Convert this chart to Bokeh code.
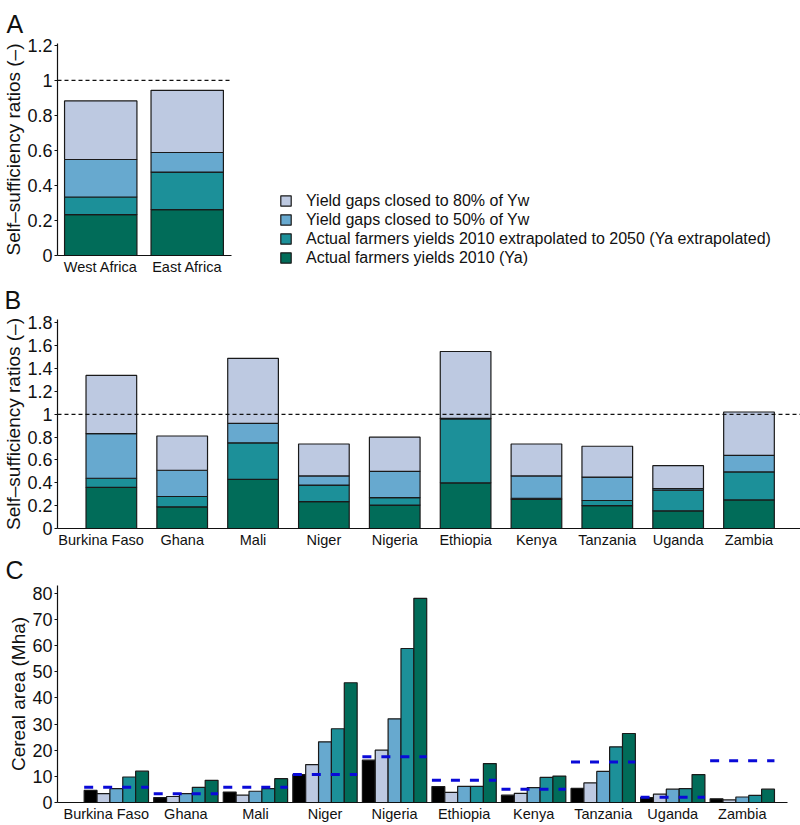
from bokeh.plotting import figure
from bokeh.models import Range1d, FixedTicker, Span, Legend, LegendItem, Title
from bokeh.layouts import column, row
from bokeh.embed import file_html
from bokeh.resources import INLINE

FONT = "Liberation Sans"
TXT = "#111111"
EDGE = "#1a1a1a"

# ---------------- data ----------------
# Panel A: regional self-sufficiency ratios (level reached under each scenario)
regions = ["West Africa", "East Africa"]
a_ya = [0.233, 0.262]
a_ya_ext = [0.334, 0.476]
a_yg50 = [0.548, 0.588]
a_yg80 = [0.882, 0.943]

# Panel B: country self-sufficiency ratios
countries = ["Burkina Faso", "Ghana", "Mali", "Niger", "Nigeria",
             "Ethiopia", "Kenya", "Tanzania", "Uganda", "Zambia"]
b_ya = [0.36, 0.19, 0.43, 0.235, 0.205, 0.40, 0.255, 0.20, 0.155, 0.25]
b_ya_ext = [0.44, 0.28, 0.75, 0.38, 0.27, 0.96, 0.265, 0.245, 0.335, 0.495]
b_yg50 = [0.83, 0.51, 0.92, 0.46, 0.50, 0.965, 0.46, 0.45, 0.35, 0.64]
b_yg80 = [1.34, 0.81, 1.49, 0.74, 0.80, 1.55, 0.74, 0.72, 0.55, 1.02]

# Panel C: cereal area (Mha)
c_area_2010 = [4.6, 1.9, 4.0, 10.7, 16.2, 6.1, 2.8, 5.4, 1.9, 1.4]
c_area_yg80 = [3.4, 2.3, 2.8, 14.5, 20.0, 3.9, 3.5, 7.5, 3.2, 1.0]
c_area_yg50 = [5.3, 3.4, 4.3, 23.2, 32.0, 6.2, 5.7, 11.9, 5.1, 2.1]
c_area_ya_ext = [9.75, 5.8, 5.3, 28.2, 58.9, 6.2, 9.6, 21.3, 5.3, 2.7]
c_area_ya = [12.0, 8.5, 9.1, 45.8, 78.1, 14.9, 10.1, 26.4, 10.7, 5.1]
c_potential = [5.8, 3.3, 5.8, 10.7, 17.5, 8.5, 5.1, 15.5, 2.0, 16.0]

ticks_a = [0, 0.2, 0.4, 0.6, 0.8, 1, 1.2]
ticks_b = [0, 0.2, 0.4, 0.6, 0.8, 1, 1.2, 1.4, 1.6, 1.8]
ticks_c = [0, 10, 20, 30, 40, 50, 60, 70, 80]
threshold = 1.0

scenario_names = ["Actual farmers yields 2010 (Ya)",
                  "Actual farmers yields 2010 extrapolated to 2050 (Ya extrapolated)",
                  "Yield gaps closed to 50% of Yw",
                  "Yield gaps closed to 80% of Yw"]
scenario_colors = ["#016c59", "#1c9099", "#67a9cf", "#bdc9e1"]
area_colors = ["#000000", "#bdc9e1", "#67a9cf", "#1c9099", "#016c59"]
potential_color = "#0a0ad8"
ssr_label = "Self\u2013sufficiency ratios (\u2013)"
area_label = "Cereal area (Mha)"


# ---------------- helpers ----------------
def make_fig(width, height, xr, yr, top, bottom, right, letter, letter_offset, letter_standoff):
    p = figure(width=width, height=height, x_range=xr, y_range=yr,
               output_backend="svg", toolbar_location=None,
               min_border_left=57, min_border_right=right,
               min_border_top=top, min_border_bottom=bottom)
    p.frame_align = False
    p.title = Title(text=letter, align="left", offset=letter_offset,
                    standoff=letter_standoff, text_font=FONT,
                    text_font_size="25px", text_font_style="normal",
                    text_color=TXT)
    p.outline_line_color = None
    p.grid.grid_line_color = None
    p.background_fill_color = "white"
    p.border_fill_color = "white"
    return p


def style_axes(p, xticks, xnames, yticks, ylabel):
    xa = p.xaxis[0]
    xa.ticker = FixedTicker(ticks=xticks)
    xa.major_label_overrides = {t: n for t, n in zip(xticks, xnames)}
    xa.major_tick_out = 0
    xa.major_tick_in = 0
    xa.minor_tick_out = 0
    xa.minor_tick_in = 0
    xa.major_tick_line_color = None
    xa.minor_tick_line_color = None
    xa.major_label_standoff = 3
    xa.major_label_text_font = FONT
    xa.major_label_text_font_size = "14.5px"
    xa.major_label_text_color = TXT
    xa.axis_line_color = TXT
    xa.axis_line_width = 1.2
    ya = p.yaxis[0]
    ya.ticker = FixedTicker(ticks=yticks)
    ya.major_label_overrides = {t: f"{t:g}" for t in yticks}
    ya.major_tick_out = 3
    ya.major_tick_in = 0
    ya.minor_tick_out = 0
    ya.minor_tick_in = 0
    ya.major_tick_line_color = TXT
    ya.minor_tick_line_color = None
    ya.major_label_standoff = 2
    ya.major_label_text_font = FONT
    ya.major_label_text_font_size = "18px"
    ya.major_label_text_color = TXT
    ya.axis_line_color = TXT
    ya.axis_line_width = 1.2
    ya.axis_label = ylabel
    ya.axis_label_standoff = 0
    ya.axis_label_text_font = FONT
    ya.axis_label_text_font_size = "19px"
    ya.axis_label_text_font_style = "normal"
    ya.axis_label_text_color = TXT


label_shift = -0.145  # first country label sits slightly left in the original

# ---------------- Panel A ----------------
WA = 245
HA = 277
pa = make_fig(WA, HA, Range1d(-0.5, 1.512), Range1d(0, 1.21), 43, 21, 14,
              "A", -51, 12)
xa_pos = list(range(len(regions)))
levels_a = [a_ya, a_ya_ext, a_yg50, a_yg80]
prev = [0] * len(regions)
for k, lv in enumerate(levels_a):
    pa.vbar(x=xa_pos, bottom=prev, top=lv, width=0.837,
            fill_color=scenario_colors[k], line_color=EDGE, line_width=1.2)
    prev = lv
pa.add_layout(Span(location=threshold, dimension="width", line_color=TXT,
                   line_dash="4 3", line_width=1.2))
style_axes(pa, xa_pos, regions, ticks_a, ssr_label)

# legend panel (to the right of A); swatch renderers carry no drawable point
pl = figure(width=550, height=HA, x_range=Range1d(0, 1), y_range=Range1d(0, 1),
            output_backend="svg", toolbar_location=None,
            min_border_left=0, min_border_right=0, min_border_top=0, min_border_bottom=0,
            x_axis_type=None, y_axis_type=None)
pl.frame_align = False
pl.outline_line_color = None
pl.grid.grid_line_color = None
pl.background_fill_color = "white"
pl.border_fill_color = "white"
nan = float("nan")
legend_glyphs = [pl.vbar(x=[nan], bottom=[nan], top=[nan], width=0.1,
                         fill_color=scenario_colors[k], line_color=EDGE, line_width=1.2)
                 for k in range(4)]
items = [LegendItem(label=scenario_names[k], renderers=[legend_glyphs[k]])
         for k in range(3, -1, -1)]
legend = Legend(items=items, location=(34, 10), padding=0, margin=0, spacing=0,
                glyph_width=13, glyph_height=13, label_height=19, label_standoff=14,
                label_text_font=FONT, label_text_font_size="16px", label_text_color=TXT,
                border_line_color=None, background_fill_alpha=0)
pl.add_layout(legend)

# ---------------- Panel B ----------------
pb = make_fig(800, 273, Range1d(-0.76, 9.727), Range1d(0, 1.83), 42, 21, 0,
              "B", -53, 11)
xb_pos = list(range(len(countries)))
levels_b = [b_ya, b_ya_ext, b_yg50, b_yg80]
prev = [0] * len(countries)
for k, lv in enumerate(levels_b):
    pb.vbar(x=xb_pos, bottom=prev, top=lv, width=0.715,
            fill_color=scenario_colors[k], line_color=EDGE, line_width=1.2)
    prev = lv
pb.add_layout(Span(location=threshold, dimension="width", line_color=TXT,
                   line_dash="4 3", line_width=1.2))
xb_ticks = [i + (label_shift if i == 0 else 0) for i in xb_pos]
style_axes(pb, xb_ticks, countries, ticks_b, ssr_label)

# ---------------- Panel C ----------------
pc = make_fig(800, 274, Range1d(-0.846, 9.65), Range1d(0, 83), 35, 21, 13,
              "C", -52, 4)
series_c = [c_area_2010, c_area_yg80, c_area_yg50, c_area_ya_ext, c_area_ya]
bw = 0.185
for k, vals in enumerate(series_c):
    xs = [i + (k - 2) * bw for i in xb_pos]
    pc.vbar(x=xs, bottom=0, top=vals, width=bw,
            fill_color=area_colors[k], line_color=EDGE, line_width=1.2)
half = 2.5 * bw
pc.segment(x0=[i - half for i in xb_pos], x1=[i + half for i in xb_pos],
           y0=c_potential, y1=c_potential, line_color=potential_color,
           line_width=3, line_dash="9 10")
style_axes(pc, xb_ticks, countries, ticks_c, area_label)

layout = column(row(pa, pl, spacing=0), pb, pc, spacing=0)
open("out.html", "w").write(file_html(layout, INLINE))
